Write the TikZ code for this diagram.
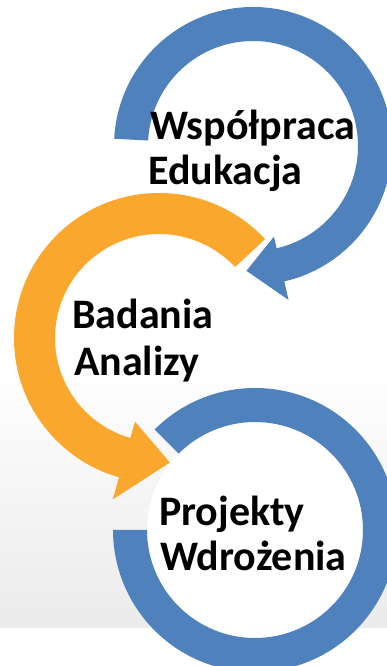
\documentclass[tikz,border=0pt]{standalone}
\usepackage{fontspec}
\setmainfont{Carlito}
\definecolor{ringblue}{RGB}{79,129,189}
\definecolor{ringorange}{RGB}{250,168,45}
\tikzset{lbl/.style={font=\fontsize{42}{46}\selectfont\bfseries, anchor=base west, inner sep=0pt}}
\tikzset{bluering/.style={fill=ringblue}}
\tikzset{orangering/.style={fill=ringorange}}

\begin{document}
\begin{tikzpicture}[x=1pt,y=1pt]
  \clip (0,0) rectangle (387,666);
  \fill[white] (0,0) rectangle (387,666);
  \shade[top color=white, bottom color=black!8] (0,38) rectangle (387,300);
  % top ring
  \begin{scope}[shift={(253,520)}]
    \fill[bluering] (177:139) arc (177:-77:139) -- (-77:158) -- (-93:125)
      -- (-77:93) -- (-77:105) arc (-77:177:105) -- cycle;
  \end{scope}
  % middle ring
  \begin{scope}[shift={(159,328)}]
    \fill[orangering] (43:145) arc (43:254:145) -- (254:168) -- (275:125)
      -- (254:87) -- (254:104) arc (254:43:104) -- cycle;
  \end{scope}
  % bottom ring
  \begin{scope}[shift={(255,136)}]
    \fill[white] (0,0) circle (108);
    \fill[bluering] (135:142) arc (135:-180:142) -- (180:108)
      arc (-180:135:108) -- cycle;
  \end{scope}
  \node[lbl] (wsp) at (150,526) {Współpraca};
  \node[lbl] (edu) at (148,481) {Edukacja};
  \node[lbl] (bad) at (72,337) {Badania};
  \node[lbl] (ana) at (74,290) {Analizy};
  \node[lbl] (pro) at (159,140) {Projekty};
  \node[lbl] (wdr) at (160,95) {Wdrożenia};
\end{tikzpicture}
\end{document}
